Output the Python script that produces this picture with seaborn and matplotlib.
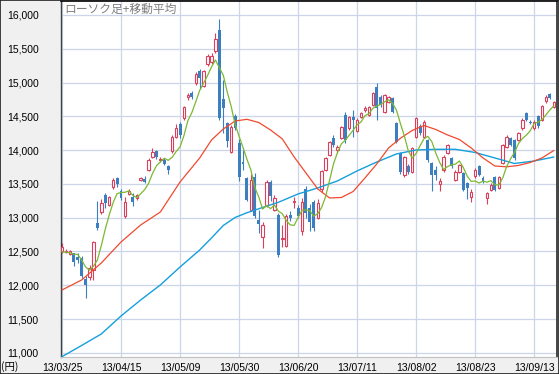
import matplotlib
matplotlib.use("Agg")
import matplotlib.pyplot as plt
import numpy as np
import pandas as pd
import seaborn as sns

# Date labels at every 15th trading day
tick_idx = [0, 15, 30, 45, 60, 75, 90, 105, 120]
tick_labels = ["13/03/25", "13/04/15", "13/05/09", "13/05/30", "13/06/20",
               "13/07/11", "13/08/02", "13/08/23", "13/09/13"]

# Daily OHLC (yen)
opens = [12510, 12490, 12465, 12470, 12420, 12400, 12090, 12120, 12230, 12920,
         13090, 13330, 13190, 13460, 13580, 13390, 13030, 13350, 13300, 13290,
         13560, 13570, 13700, 13900, 13990, 13850, 13860, 13760, 13980, 14200,
         14390, 14470, 14780, 14840, 14990, 15170, 14950, 15280, 15300, 15460,
         15780, 14760, 14400, 13970, 14510, 14100, 13830, 13580, 13120, 13600,
         12960, 12720, 13190, 13530, 13120, 13040, 12680, 12580, 13040, 13230,
         13140, 12800, 13430, 13140, 13230, 13000, 13420, 13710, 13930, 14180,
         13995, 14180, 14520, 14320, 14495, 14290, 14495, 14600, 14520, 14670,
         14940, 14790, 14570, 14710, 14770, 14400, 13950, 13630, 13760, 13680,
         14200, 14350, 14200, 14150, 13805, 13700, 13500, 13700, 13955, 13880,
         13560, 13680, 13660, 13510, 13310, 13610, 13760, 13580, 13290, 13410,
         13600, 13435, 13805, 14050, 14175, 14150, 14150, 14320, 14545, 14420,
         14320, 14500, 14450, 14720, 14830, 14640]
highs = [12630, 12530, 12520, 12480, 12470, 12430, 12130, 12300, 12660, 13240,
         13280, 13370, 13320, 13590, 13600, 13420, 13300, 13420, 13370, 13350,
         13600, 13610, 13880, 14030, 14000, 13900, 13880, 13780, 14230, 14380,
         14420, 14660, 14850, 14870, 15160, 15200, 15190, 15420, 15440, 15730,
         15942, 15040, 14420, 14370, 14540, 14160, 14000, 13600, 13640, 13660,
         13110, 12930, 13560, 13560, 13330, 13070, 12890, 13060, 13100, 13300,
         13190, 13290, 13470, 13200, 13260, 13270, 13700, 13900, 14130, 14220,
         14080, 14360, 14560, 14510, 14600, 14470, 14560, 14660, 14650, 14860,
         14990, 14810, 14830, 14800, 14790, 14420, 13970, 13920, 13800, 14040,
         14490, 14380, 14440, 14170, 13830, 13760, 13580, 13930, 14090, 13900,
         13700, 13800, 13680, 13530, 13420, 13730, 13780, 13620, 13380, 13510,
         13620, 13620, 14090, 14220, 14190, 14170, 14270, 14470, 14570, 14440,
         14440, 14520, 14670, 14810, 14850, 14730]
lows = [12480, 12470, 12450, 12290, 12330, 12110, 11805, 12080, 12080, 12820,
        13050, 13150, 13170, 13420, 13450, 13260, 13000, 13330, 13180, 13260,
        13540, 13510, 13690, 13880, 13870, 13820, 13780, 13650, 13960, 14180,
        14180, 14440, 14740, 14760, 14970, 14900, 14930, 15250, 15270, 15440,
        14450, 14250, 14050, 13950, 14300, 13550, 13700, 13250, 13100, 12990,
        12770, 12550, 13160, 13250, 13100, 12420, 12570, 12560, 12950, 13150,
        12990, 12750, 13000, 12800, 12800, 12980, 13380, 13690, 13910, 14050,
        13960, 14160, 14110, 14300, 14200, 14270, 14480, 14570, 14500, 14650,
        14450, 14640, 14550, 14690, 14550, 14100, 13650, 13600, 13650, 13660,
        14180, 14230, 14180, 13830, 13400, 13560, 13400, 13680, 13940, 13740,
        13540, 13660, 13390, 13280, 13230, 13590, 13610, 13520, 13200, 13390,
        13390, 13420, 13790, 14030, 14060, 13860, 14130, 14300, 14430, 14380,
        14300, 14330, 14430, 14700, 14750, 14620]
closes = [12560, 12500, 12500, 12340, 12380, 12140, 12000, 12250, 12640, 12840,
          13210, 13210, 13300, 13560, 13500, 13290, 13230, 13400, 13230, 13330,
          13580, 13530, 13860, 13970, 13900, 13870, 13800, 13700, 14200, 14320,
          14220, 14640, 14810, 14780, 15130, 15060, 15170, 15390, 15400, 15650,
          14480, 14620, 14140, 14340, 14330, 13600, 13790, 13260, 13560, 13020,
          12905, 12890, 13530, 13320, 13290, 12450, 12700, 13030, 13000, 13250,
          13030, 13230, 13070, 12930, 12850, 13220, 13690, 13880, 14120, 14075,
          14050, 14340, 14150, 14490, 14446, 14450, 14545, 14620, 14635, 14840,
          14620, 14670, 14815, 14780, 14570, 14125, 13680, 13900, 13680, 14025,
          14470, 14250, 14420, 13850, 13630, 13630, 13550, 13900, 14075, 13760,
          13680, 13780, 13410, 13435, 13380, 13710, 13630, 13550, 13360, 13490,
          13410, 13600, 14075, 14200, 14075, 13880, 14250, 14450, 14450, 14400,
          14420, 14350, 14650, 14790, 14770, 14715]

# 5-day MA for the first four days (needs earlier closes)
ma5_head = [12490, 12490, 12480, 12460]

# 25-day moving average at these trading days
ma25_idx = [0, 5, 10, 15, 20, 25, 30, 35, 38, 41, 44, 47, 50, 53, 56, 59, 62,
            65, 68, 71, 74, 77, 80, 83, 86, 89, 92, 95, 98, 101, 104, 107, 110,
            113, 116, 119, 122, 125]
ma25 = [11930, 12078, 12330, 12640, 12892, 13084, 13528, 13884, 14150, 14313,
        14431, 14456, 14409, 14298, 14165, 13898, 13662, 13425, 13292, 13299,
        13388, 13588, 13795, 14032, 14175, 14291, 14365, 14305, 14224, 14157,
        14032, 13884, 13765, 13753, 13773, 13817, 13884, 13995]

# 75-day moving average at these trading days
ma75_idx = [0, 5, 10, 15, 20, 25, 30, 35, 38, 41, 44, 47, 50, 55, 60, 65, 70,
            75, 80, 85, 90, 95, 100, 105, 110, 115, 120, 125]
ma75 = [10943, 11109, 11279, 11545, 11782, 12004, 12270, 12522, 12700, 12885,
        13003, 13073, 13132, 13228, 13351, 13440, 13544, 13692, 13824, 13943,
        14002, 14012, 14012, 13965, 13884, 13802, 13839, 13898]

df = pd.DataFrame(dict(o=opens, h=highs, l=lows, c=closes))
df["x"] = np.arange(len(df))
ma5 = df["c"].rolling(5).mean()
ma5.iloc[:4] = ma5_head
df["ma5"] = ma5
ma25_df = pd.DataFrame(dict(x=ma25_idx, y=ma25))
ma75_df = pd.DataFrame(dict(x=ma75_idx, y=ma75))

sns.set_theme(style="white")
plt.rcParams["font.family"] = ["Liberation Sans", "Noto Sans CJK JP", "DejaVu Sans"]

UP = "#d9405c"
DOWN = "#3b7fc1"

fig = plt.figure(figsize=(5.59, 3.74), dpi=100, facecolor="#f0f0f0")
ax = fig.add_axes([61 / 559, 1 - 357 / 374, 496 / 559, 356 / 374])
ax.set_facecolor("white")

up = df[df.c >= df.o]
dn = df[df.c < df.o]

# wicks
ax.vlines(up.x, up.l, up.h, color=UP, lw=0.8, zorder=2)
ax.vlines(dn.x, dn.l, dn.h, color=DOWN, lw=0.8, zorder=2)
# bodies
ax.bar(up.x, (up.c - up.o).clip(lower=8), bottom=up.o, width=0.62,
       facecolor="white", edgecolor=UP, linewidth=0.8, zorder=3)
ax.bar(dn.x, (dn.o - dn.c).clip(lower=8), bottom=dn.c, width=0.75,
       color=DOWN, linewidth=0, zorder=3)

# moving averages
sns.lineplot(data=ma75_df, x="x", y="y", ax=ax, color="#14a0dc", lw=1.0, zorder=4)
sns.lineplot(data=ma25_df, x="x", y="y", ax=ax, color="#f04a2e", lw=0.9, zorder=4)
sns.lineplot(data=df, x="x", y="ma5", ax=ax, color="#7cb832", lw=0.9, zorder=5)

ax.set_xlim(-0.25, 125.8)
ax.set_ylim(10938, 16207)
ax.set_xticks(tick_idx)
ax.set_xticklabels(tick_labels)
yt = np.arange(11000, 16001, 500)
ax.set_yticks(yt)
ax.set_yticklabels([f"{v:,}" for v in yt])
ax.tick_params(axis="both", labelsize=7.5, colors="black", length=0)
ax.tick_params(axis="y", pad=16)
ax.tick_params(axis="x", pad=4)
ax.set_xlabel("")
ax.set_ylabel("")
ax.grid(True, color="#cdd6e8", lw=0.9)
ax.set_axisbelow(True)

ax.spines["left"].set_color("#404040")
ax.spines["left"].set_linewidth(1.0)
ax.spines["top"].set_color("black")
ax.spines["top"].set_linewidth(1.2)
ax.spines["right"].set_color("#303030")
ax.spines["bottom"].set_color("#c0c0c0")
ax.spines["bottom"].set_linewidth(0.8)

ax.text(0.006, 0.995, "ローソク足+移動平均", transform=ax.transAxes, ha="left",
        va="top", fontsize=8.5, color="#808080",
        family=["Noto Sans CJK JP", "DejaVu Sans"])
fig.text(0.002, 1 - 367 / 374, "(円)", ha="left", va="center", fontsize=7.5,
         color="black", family=["Noto Sans CJK JP", "DejaVu Sans"])

fig.patches.append(plt.Rectangle((0, 0), 1, 1, transform=fig.transFigure,
                                 fill=False, edgecolor="#202020", lw=1.2))

fig.savefig("out.png", dpi=100, facecolor=fig.get_facecolor())
